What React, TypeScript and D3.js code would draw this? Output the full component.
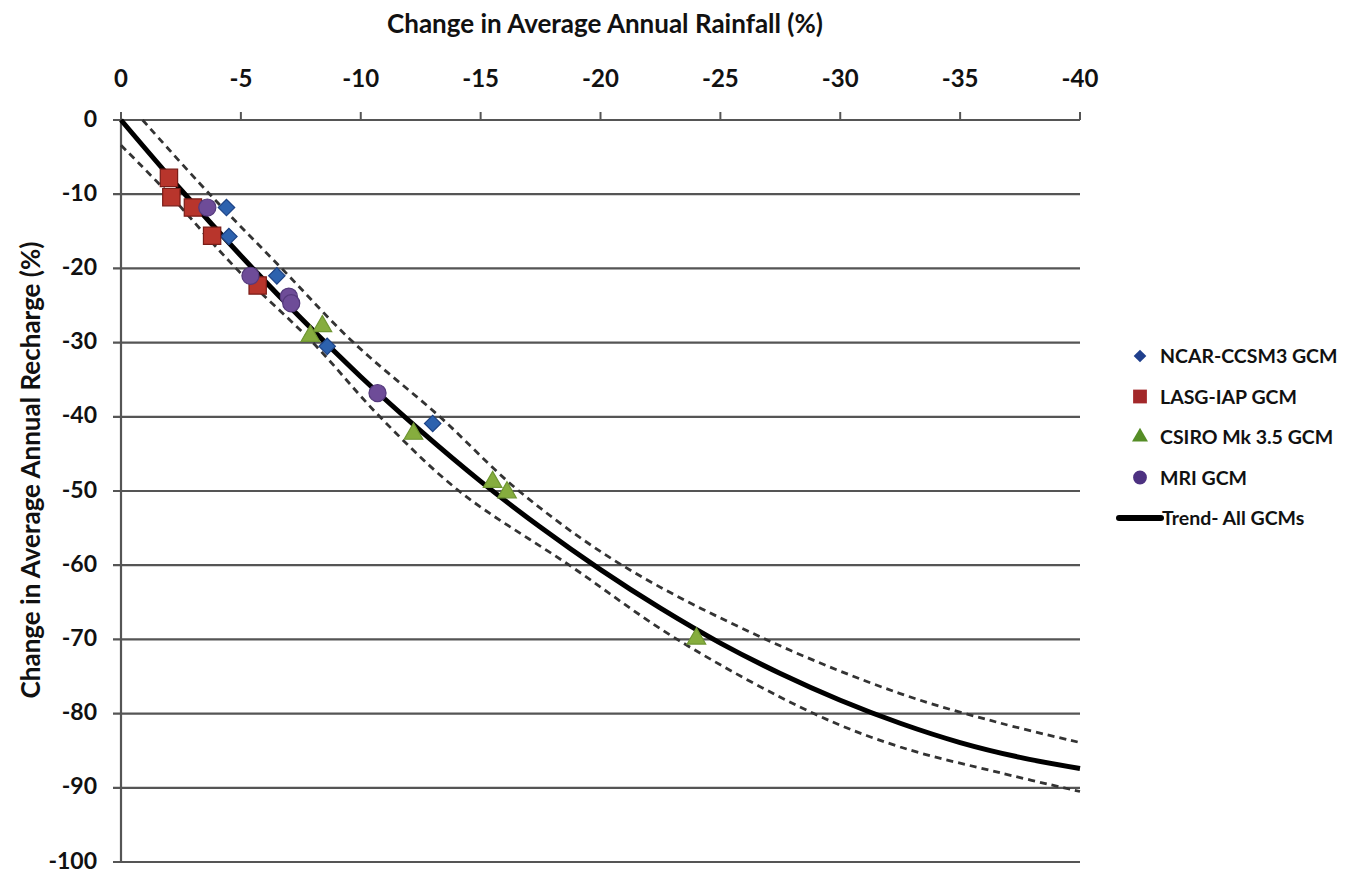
import React, { useEffect, useRef } from 'react';
import * as d3 from 'd3';

// axis ticks
const rainfallTicks = [0, -5, -10, -15, -20, -25, -30, -35, -40];
const rechargeTicks = [0, -10, -20, -30, -40, -50, -60, -70, -80, -90, -100];

// GCM points (rainfall change %, recharge change %)
const ncarRain = [-4.4, -4.5, -6.5, -8.6, -13.0];
const ncarRecharge = [-11.8, -15.7, -21.0, -30.5, -40.9];
const lasgRain = [-2.0, -2.1, -3.0, -3.8, -5.7];
const lasgRecharge = [-7.8, -10.4, -11.8, -15.6, -22.3];
const csiroRain = [-8.4, -7.9, -12.2, -15.5, -16.1, -24.0];
const csiroRecharge = [-27.8, -29.1, -42.3, -48.8, -50.2, -69.9];
const mriRain = [-3.6, -5.4, -7.0, -7.1, -10.7];
const mriRecharge = [-11.8, -21.0, -23.8, -24.7, -36.8];

// trend and its band
const trendRain = [0, -2.5, -5, -7.5, -10, -12.5, -15, -17.5, -20, -22.5, -25, -27.5, -30, -32.5, -35, -37.5, -40];
const trendRecharge = [0, -9.4, -18.3, -26.7, -34.6, -41.9, -48.7, -54.9, -60.6, -65.8, -70.5, -74.6, -78.2, -81.3, -83.9, -85.9, -87.4];
const upperRain = [-0.9, -3.7, -6.7, -9.7, -13.3, -16.6, -20.9, -26.9, -32.5, -36.7, -40];
const upperRecharge = [0, -10, -20, -30, -40, -50, -60, -70, -77.3, -81.3, -83.9];
const lowerRain = [0, -2.0, -4.8, -8.0, -10.8, -14.1, -18.7, -23.2, -28.9, -32.5, -36.7, -40];
const lowerRecharge = [-3.4, -10, -20, -30, -40, -50, -60, -70, -80, -84.5, -88.0, -90.5];

// diamond = square turned 45deg
const series = [
    { name: 'NCAR-CCSM3 GCM', rain: ncarRain, recharge: ncarRecharge, shape: d3.symbolSquare, rot: 45, fill: '#2d62ae', stroke: '#1d4386', size: 135, legendFill: '#1f3f8c', legendSize: 80 },
    { name: 'LASG-IAP GCM', rain: lasgRain, recharge: lasgRecharge, shape: d3.symbolSquare, rot: 0, fill: '#b8352c', stroke: '#7a1c17', size: 300, legendFill: '#a3282a', legendSize: 190 },
    { name: 'CSIRO Mk 3.5 GCM', rain: csiroRain, recharge: csiroRecharge, shape: d3.symbolTriangle, rot: 0, fill: '#86ad3e', stroke: '#6f9632', size: 150, legendFill: '#558d26', legendSize: 110 },
    { name: 'MRI GCM', rain: mriRain, recharge: mriRecharge, shape: d3.symbolCircle, rot: 0, fill: '#6e4c98', stroke: '#54397c', size: 230, legendFill: '#4d3181', legendSize: 150 },
];

const W = 1354, H = 873;
const FONT = 'Lato, "Open Sans", sans-serif';

const App = () => {
    const anchor = useRef(null);

    useEffect(() => {
        const svg = d3.select(anchor.current);
        svg.selectAll('*').remove();

        const x = d3.scaleLinear().domain([0, -40]).range([121, 1080]);
        const y = d3.scaleLinear().domain([0, -100]).range([120, 862]);

        // gridlines
        svg.append('g').selectAll('line').data(rechargeTicks).enter().append('line')
            .attr('x1', x(0) - 8).attr('x2', x(-40))
            .attr('y1', (d) => y(d)).attr('y2', (d) => y(d))
            .attr('stroke', '#555').attr('stroke-width', 2.2);

        // y axis line
        svg.append('line').attr('x1', x(0)).attr('x2', x(0)).attr('y1', y(0)).attr('y2', y(-100))
            .attr('stroke', '#555').attr('stroke-width', 2.2);

        // x ticks (up from top axis)
        svg.append('g').selectAll('line').data(rainfallTicks).enter().append('line')
            .attr('x1', (d) => x(d)).attr('x2', (d) => x(d))
            .attr('y1', y(0) - 8).attr('y2', y(0))
            .attr('stroke', '#555').attr('stroke-width', 2);

        svg.append('g').selectAll('text').data(rainfallTicks).enter().append('text')
            .attr('x', (d) => x(d)).attr('y', 87)
            .attr('text-anchor', 'middle')
            .style('font', `bold 24px ${FONT}`).attr('fill', '#111')
            .text((d) => d);

        svg.append('g').selectAll('text').data(rechargeTicks).enter().append('text')
            .attr('x', 97).attr('y', (d) => y(d) + 6.5)
            .attr('text-anchor', 'end')
            .style('font', `bold 23px ${FONT}`).attr('fill', '#111')
            .text((d) => d);

        // axis titles
        svg.append('text').attr('x', 605).attr('y', 33).attr('text-anchor', 'middle')
            .style('font', `bold 26px ${FONT}`).attr('fill', '#111')
            .text('Change in Average Annual Rainfall (%)');
        svg.append('text').attr('transform', 'translate(40,470) rotate(-90)').attr('text-anchor', 'middle')
            .style('font', `bold 26px ${FONT}`).attr('fill', '#111')
            .text('Change in Average Annual Recharge (%)');

        const line = d3.line().curve(d3.curveCatmullRom.alpha(0.5));

        const band = [[upperRain, upperRecharge], [lowerRain, lowerRecharge]];
        band.forEach(([r, c]) => {
            svg.append('path')
                .attr('d', line(r.map((v, i) => [x(v), y(c[i])])))
                .attr('fill', 'none').attr('stroke', '#333').attr('stroke-width', 2.8)
                .attr('stroke-dasharray', '7 5');
        });

        svg.append('path')
            .attr('d', line(trendRain.map((v, i) => [x(v), y(trendRecharge[i])])))
            .attr('fill', 'none').attr('stroke', '#000').attr('stroke-width', 5);

        // points
        series.forEach((s) => {
            const sym = d3.symbol().type(s.shape).size(s.size);
            svg.append('g').selectAll('path').data(s.rain).enter().append('path')
                .attr('d', sym)
                .attr('transform', (d, i) => `translate(${x(d)},${y(s.recharge[i])}) rotate(${s.rot})`)
                .attr('fill', s.fill).attr('stroke', s.stroke).attr('stroke-width', 1.2);
        });

        // legend
        const legend = svg.append('g');
        series.forEach((s, i) => {
            const ly = 356 + i * 40.5;
            legend.append('path')
                .attr('d', d3.symbol().type(s.shape).size(s.legendSize))
                .attr('transform', `translate(1140,${ly}) rotate(${s.rot})`)
                .attr('fill', s.legendFill);
            legend.append('text').attr('x', 1160).attr('y', ly + 7)
                .style('font', `bold 19.5px ${FONT}`).attr('fill', '#111')
                .text(s.name);
        });
        const ty = 356 + 4 * 40.5;
        legend.append('line').attr('x1', 1119).attr('x2', 1161).attr('y1', ty).attr('y2', ty)
            .attr('stroke', '#000').attr('stroke-width', 6).attr('stroke-linecap', 'round');
        legend.append('text').attr('x', 1162).attr('y', ty + 7)
            .style('font', `bold 19.5px ${FONT}`).attr('fill', '#111')
            .text('Trend- All GCMs');
    }, []);

    return <svg ref={anchor} width={W} height={H} style={{ display: 'block', position: 'absolute', left: 0, top: 0, background: '#fff' }} />;
};

export default App;
